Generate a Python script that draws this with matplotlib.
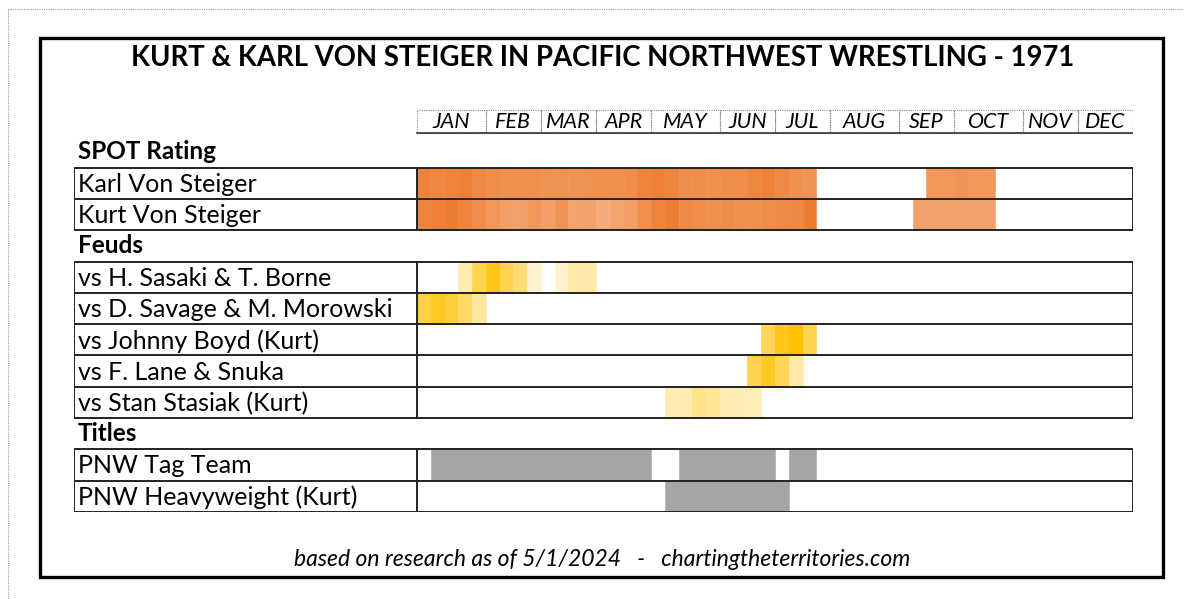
import matplotlib
matplotlib.use("Agg")
import matplotlib.pyplot as plt
from matplotlib.patches import Rectangle
from matplotlib.lines import Line2D
import numpy as np

# ---------------- data ----------------
months = ["JAN", "FEB", "MAR", "APR", "MAY", "JUN", "JUL", "AUG", "SEP", "OCT", "NOV", "DEC"]
weeks_per_month = [5, 4, 4, 4, 5, 4, 4, 5, 4, 5, 4, 4]

spot_labels = ["Karl Von Steiger", "Kurt Von Steiger"]
karl_spot = ([0.95, 0.92, 0.95, 0.97, 0.9, 0.88, 0.85, 0.85, 0.86, 0.84, 0.84, 0.82, 0.84, 0.85,
              0.86, 0.88, 0.95, 0.97, 0.93, 0.87, 0.87, 0.85, 0.87, 0.88, 0.93, 0.96, 0.9, 0.85, 0.82]
             + [0] * 8 + [0.8, 0.8, 0.82, 0.8, 0.8] + [0] * 10)
kurt_spot = ([0.95, 0.97, 1.0, 0.95, 0.88, 0.8, 0.75, 0.72, 0.8, 0.75, 0.82, 0.7, 0.72, 0.65,
              0.7, 0.75, 0.85, 0.95, 1.0, 0.9, 0.88, 0.85, 0.88, 0.85, 0.85, 0.88, 0.9, 0.92, 1.0]
             + [0] * 7 + [0.72, 0.72, 0.72, 0.72, 0.72, 0.72] + [0] * 10)

feud_labels = ["vs H. Sasaki & T. Borne", "vs D. Savage & M. Morowski", "vs Johnny Boyd (Kurt)",
               "vs F. Lane & Snuka", "vs Stan Stasiak (Kurt)"]
sasaki = [0, 0, 0, 0.3, 0.7, 0.9, 0.7, 0.55, 0.2, 0, 0.2, 0.35, 0.35] + [0] * 39
savage = [0.75, 0.85, 0.78, 0.6, 0.38] + [0] * 47
boyd = [0] * 25 + [0.65, 0.9, 1.0, 0.7] + [0] * 23
lane = [0] * 24 + [0.7, 0.85, 0.65, 0.35] + [0] * 24
stasiak = [0] * 18 + [0.3, 0.3, 0.45, 0.42, 0.3, 0.3, 0.28] + [0] * 27

title_labels = ["PNW Tag Team", "PNW Heavyweight (Kurt)"]
tag_team = [0] + [1] * 16 + [0, 0] + [1] * 7 + [0] + [1] * 2 + [0] * 23
heavyweight = [0] * 18 + [1] * 9 + [0] * 25

sections = ["SPOT Rating", "Feuds", "Titles"]

title = "KURT & KARL VON STEIGER IN PACIFIC NORTHWEST WRESTLING - 1971"
footer = "based on research as of 5/1/2024   -   chartingtheterritories.com"

ORANGE = (237, 125, 49)
YELLOW = (255, 192, 0)
GRAY = (166, 166, 166)

# ---------------- figure ----------------
W, H = 1184, 599
FONT = "Lato"
fig = plt.figure(figsize=(W / 100, H / 100), dpi=100)
fig.patch.set_facecolor("white")

# page dotted border (top + left)
fig.add_artist(Line2D([8 / W, 1.0], [1 - 9 / H, 1 - 9 / H], transform=fig.transFigure,
                      color="#9a9a9a", lw=0.8, linestyle=(0, (1, 1))))
fig.add_artist(Line2D([8 / W, 8 / W], [1 - 9 / H, 0], transform=fig.transFigure,
                      color="#9a9a9a", lw=0.8, linestyle=(0, (1, 1))))
# outer frame
fig.add_artist(Rectangle((40 / W, 1 - 577 / H), (1163 - 40) / W, (577 - 38) / H,
                         transform=fig.transFigure, fill=False, edgecolor="black", lw=2.4))

fig.text(603 / W, 1 - 58 / H, title, ha="center", va="center", fontsize=19.8,
         fontweight="bold", family=FONT)
fig.text(602 / W, 1 - 560 / H, footer, ha="center", va="center", fontsize=16.5,
         style="italic", family=FONT)

NW = 52
LW = NW * (417 - 74) / (1133 - 417)
ax = fig.add_axes([74 / W, 1 - 512 / H, (1133 - 74) / W, (512 - 105) / H])
ax.set_xlim(-LW, NW)
ax.set_ylim(13, 0)
ax.axis("off")


def mix(base, v):
    return tuple((255 - v * (255 - c)) / 255 for c in base)


# month header
start = 0
for m, n in zip(months, weeks_per_month):
    ax.add_patch(Rectangle((start, 0.16), n, 0.74, fill=False, edgecolor="#8c8c8c",
                           lw=0.8, linestyle=(0, (1, 1))))
    ax.text(start + n / 2, 0.53, m, ha="center", va="center", fontsize=15.5,
            style="italic", family=FONT)
    start += n
ax.plot([0, NW], [0.9, 0.9], color="#333333", lw=1.2)

# rows
rows = [
    (1, None, None, sections[0]),
    (2, spot_labels[0], (karl_spot, ORANGE), None),
    (3, spot_labels[1], (kurt_spot, ORANGE), None),
    (4, None, None, sections[1]),
    (5, feud_labels[0], (sasaki, YELLOW), None),
    (6, feud_labels[1], (savage, YELLOW), None),
    (7, feud_labels[2], (boyd, YELLOW), None),
    (8, feud_labels[3], (lane, YELLOW), None),
    (9, feud_labels[4], (stasiak, YELLOW), None),
    (10, None, None, sections[2]),
    (11, title_labels[0], (tag_team, GRAY), None),
    (12, title_labels[1], (heavyweight, GRAY), None),
]

xlab = -LW + (78 - 74) / ((1133 - 417) / NW)
for r, label, data, head in rows:
    if head is not None:
        ax.text(xlab, r + 0.5, head, ha="left", va="center", fontsize=17.5,
                fontweight="bold", family=FONT)
        continue
    vals, base = data
    wk = [i for i, v in enumerate(vals) if v > 0]
    cols = [mix(base, vals[i]) for i in wk]
    ax.bar(wk, 1, bottom=r, width=1, align="edge", color=cols, edgecolor=cols, lw=0.4)
    ax.text(xlab, r + 0.53, label, ha="left", va="center", fontsize=18, family=FONT)

# section borders
LC = "#222222"
for first, last in [(2, 3), (5, 9), (11, 12)]:
    ax.add_patch(Rectangle((-LW, first), LW + NW, last - first + 1, fill=False,
                           edgecolor=LC, lw=1.4, zorder=5))
    for y in range(first + 1, last + 1):
        ax.plot([-LW, NW], [y, y], color=LC, lw=1.4, zorder=5)
    ax.plot([0, 0], [first, last + 1], color=LC, lw=1.4, zorder=5)

fig.savefig("out.png", dpi=100)
